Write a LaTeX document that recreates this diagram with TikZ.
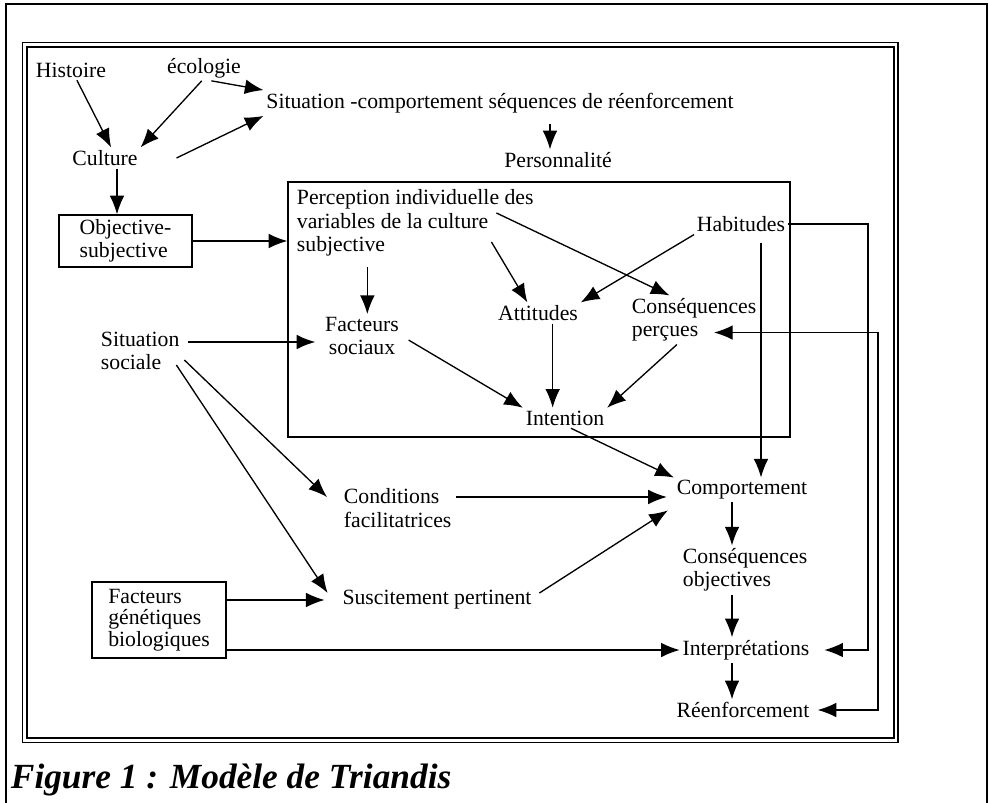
\documentclass[tikz,border=0pt]{standalone}
\usepackage{fontspec}
\setmainfont{Liberation Serif}
\usetikzlibrary{arrows.meta,calc}

\begin{document}
\begin{tikzpicture}[x=0.75pt,y=0.75pt,yscale=-1,xscale=1,
	font=\fontsize{16.3pt}{17.6pt}\selectfont,
	every node/.style={inner sep=2pt},
	arr/.style={-{Latex[length=14pt,width=11pt]},line width=1pt},
	dblarr/.style={{Latex[length=14pt,width=11pt]}-{Latex[length=14pt,width=11pt]},line width=1pt},
	txtbox/.style={draw,line width=1pt,align=left,inner sep=0pt}]
	\useasboundingbox (0,0) rectangle (989,803);

	%Shape: Frames
	\draw [line width=1.1pt] (6,815) -- (6,4) -- (987,4) -- (987,815) ;
	\draw [line width=1.1pt] (22.5,42.5) rectangle (898,742.5) ;
	\draw [line width=0.8pt] (27,47) rectangle (894,738) ;

	% Text Node
	\node (hist) at (71,70) {Histoire};
	% Text Node
	\node (eco) at (204,68) {écologie};
	% Text Node
	\node (sitc) at (500,103) {Situation -comportement séquences de réenforcement};
	% Text Node
	\node (pers) at (558,160) {Personnalité};
	% Text Node
	\node (cult) at (105,158) {Culture};
	% Text Node
	\node (objs) [txtbox, minimum width=99.75pt, minimum height=39pt] at (125.5,241) {Objective-\\subjective};
	%Shape: Rectangle
	\node (percbox) [draw, line width=1pt, minimum width=376.5pt, minimum height=191.25pt, inner sep=0pt] at (539,309.5) {};
	% Text Node
	\node (perc) [anchor=west, align=left] at (294,223) {Perception individuelle des\\variables de la culture\\subjective};
	% Text Node
	\node (hab) at (741,224) {Habitudes};
	% Text Node
	\node (fsoc) [align=center] at (362,336) {Facteurs\\sociaux};
	% Text Node
	\node (att) at (538,313) {Attitudes};
	% Text Node
	\node (consp) [anchor=west, align=left] at (629,320) {Conséquences\\perçues};
	% Text Node
	\node (intn) at (565,418) {Intention};
	% Text Node
	\node (ssoc) [anchor=west, align=left] at (98,351) {Situation\\sociale};
	% Text Node
	\node (cond) [anchor=west, align=left] at (341,508) {Conditions\\facilitatrices};
	% Text Node
	\node (comp) at (742,490) {Comportement};
	% Text Node
	\node (consob) [anchor=west, align=left] at (680,570) {Conséquences\\objectives};
	% Text Node
	\node (susc) at (437,600) {Suscitement pertinent};
	% Text Node
	\node (fgen) [txtbox, minimum width=100.5pt, minimum height=57pt, font=\fontsize{16.3pt}{16pt}\selectfont] at (159,620) {Facteurs\\génétiques\\biologiques};
	% Text Node
	\node (interp) at (746,650) {Interprétations};
	% Text Node
	\node (reenf) at (743,710) {Réenforcement};
	% Text Node
	\node (titre) [anchor=west, font=\fontsize{26.5pt}{28pt}\selectfont\bfseries\itshape] at (8,780) {Figure 1 : Modèle de Triandis};

	%Straight Lines
	\draw [arr] (hist.-60) -- (cult.60) ;
	\draw [arr] (eco.-100) -- (cult.north east) ;
	\draw [arr] (eco.-60) -- (sitc.north west) ;
	\draw [arr] ($(cult.east)+(36,0)$) -- (sitc.south west) ;
	\draw [arr] ([xshift=9pt]cult.south) -- ([xshift=9pt]cult.south |- objs.north) ;
	\draw [arr] (objs.east) -- (objs.east -| percbox.west) ;
	\draw [arr, shorten <=6pt] ([xshift=-6pt]pers.north |- sitc.south) -- ([xshift=-6pt]pers.north) ;

	%Straight Lines
	\draw [arr, shorten <=6pt] ([xshift=4pt]fsoc.north |- perc.south) -- ([xshift=4pt]fsoc.north) ;
	\draw [arr] ($(perc.east)+(-45,19)$) -- (att.135) ;
	\draw [arr] ($(perc.east)+(-40,-10)$) -- (consp.135) ;
	\draw [arr] (hab.south west) -- (att.north east) ;
	\draw [arr, shorten <=6pt] (fsoc.east) -- (intn.north west) ;
	\draw [arr] ([xshift=11pt]att.south) -- ([xshift=11pt]att.south |- intn.north) ;
	\draw [arr] (consp.-125) -- (intn.north east) ;
	\draw [arr] (intn.-60) -- (comp.north west) ;
	\draw [arr, shorten <=6pt] ([xshift=15pt]hab.south) -- ([xshift=15pt]hab.south |- comp.north) ;

	%Straight Lines
	\draw [arr] ($(ssoc.east)+(6,-9)$) -- ($(fsoc.west)+(-7,6)$) ;
	\draw [arr] ($(ssoc.east)+(2,9)$) -- ($(cond.west)+(-14,-11)$) ;
	\draw [arr] ($(ssoc.south east)+(-6,-8)$) -- ($(susc.west)+(-12,-7)$) ;
	\draw [arr] ($(cond.east)+(2,-11)$) -- ($(comp.west)+(-7,7)$) ;
	\draw [arr] ($(susc.east)+(5,-7)$) -- ($(comp.south west)+(-6,8)$) ;
	\draw [arr] (fgen.east |- susc.west) -- ($(susc.west)+(-15,0)$) ;
	\draw [arr] (fgen.east |- interp.west) -- (interp.west) ;

	%Straight Lines
	\draw [arr] ([xshift=-7.5pt]comp.south) -- ([xshift=-7.5pt]comp.south |- consob.north) ;
	\draw [arr] ([xshift=-7.5pt]comp.south |- consob.south) -- ([xshift=-7.5pt]comp.south |- interp.north) ;
	\draw [arr] ([xshift=-7.5pt]comp.south |- interp.south) -- ([xshift=-7.5pt]comp.south |- reenf.north) ;

	%Feedback loops
	\draw [arr, shorten >=9pt] (hab.east) -- ++(80,0) |- (interp.east) ;
	\draw [dblarr] ($(consp.south west)+(85,-12)$) -- ++(164,0) |- ([xshift=4pt]reenf.east) ;
\end{tikzpicture}
\end{document}
